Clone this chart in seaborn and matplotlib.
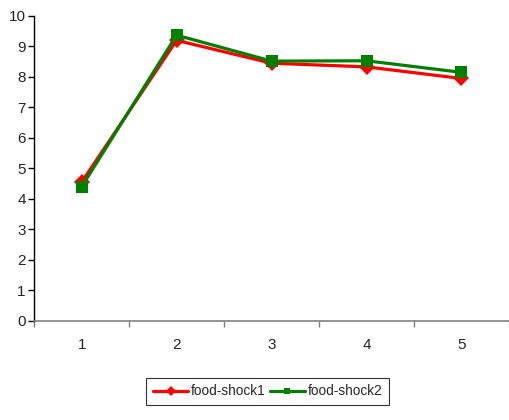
import matplotlib
matplotlib.use("Agg")
import matplotlib.pyplot as plt
import pandas as pd
import seaborn as sns

categories = [1, 2, 3, 4, 5]
shock1 = [4.55, 9.2, 8.45, 8.33, 7.95]
shock2 = [4.4, 9.37, 8.52, 8.53, 8.15]
series_names = ["food-shock1", "food-shock2"]
y_ticks = [0, 1, 2, 3, 4, 5, 6, 7, 8, 9, 10]

sns.set_style("white")
plt.rcParams["font.family"] = ["Liberation Sans", "DejaVu Sans"]

df = pd.DataFrame({
    "pos": list(range(len(categories))) * 2,
    "value": shock1 + shock2,
    "series": [series_names[0]] * len(categories) + [series_names[1]] * len(categories),
})

fig = plt.figure(figsize=(5.1, 4.2), dpi=100)
ax = fig.add_axes([0.067, 0.236, 0.931, 0.726])

sns.lineplot(data=df, x="pos", y="value", hue="series", style="series",
             palette={"food-shock1": "#ff0000", "food-shock2": "#008000"},
             markers={"food-shock1": "D", "food-shock2": "s"},
             dashes=False, linewidth=2.3, markersize=8, markeredgewidth=0,
             ax=ax)

ax.set_xlim(-0.5, len(categories) - 0.5)
ax.set_ylim(0, 10)
ax.set_yticks(y_ticks)
ax.set_yticklabels([str(t) for t in y_ticks], fontsize=11)

# category axis: ticks between categories, labels centered
ax.set_xticks([i - 0.5 for i in range(len(categories) + 1)])
ax.set_xticklabels([])
ax.set_xticks(range(len(categories)), minor=True)
ax.set_xticklabels([str(c) for c in categories], minor=True, fontsize=11)
ax.tick_params(axis="x", which="major", length=4, width=1, color="#808080", direction="out")
ax.tick_params(axis="x", which="minor", length=0, pad=12)
ax.tick_params(axis="y", length=4, width=1, color="black", direction="out", pad=2)
ax.xaxis.set_ticks_position("bottom")
ax.yaxis.set_ticks_position("left")

ax.set_xlabel("")
ax.set_ylabel("")
ax.spines["top"].set_visible(False)
ax.spines["right"].set_visible(False)
ax.spines["left"].set_color("black")
ax.spines["left"].set_linewidth(1)
ax.spines["bottom"].set_color("#808080")
ax.spines["bottom"].set_linewidth(1.2)
ax.grid(False)

handles, labels = ax.get_legend_handles_labels()
ax.legend(handles, labels, loc="center", bbox_to_anchor=(0.525, 0.068),
          bbox_transform=fig.transFigure, ncol=2, frameon=True, fancybox=False,
          edgecolor="black", fontsize=9.8, handlelength=2.6, handletextpad=0.2,
          columnspacing=0.3, borderpad=0.5, markerscale=0.6)
ax.get_legend().get_frame().set_linewidth(0.8)

fig.savefig("out.png", dpi=100)
